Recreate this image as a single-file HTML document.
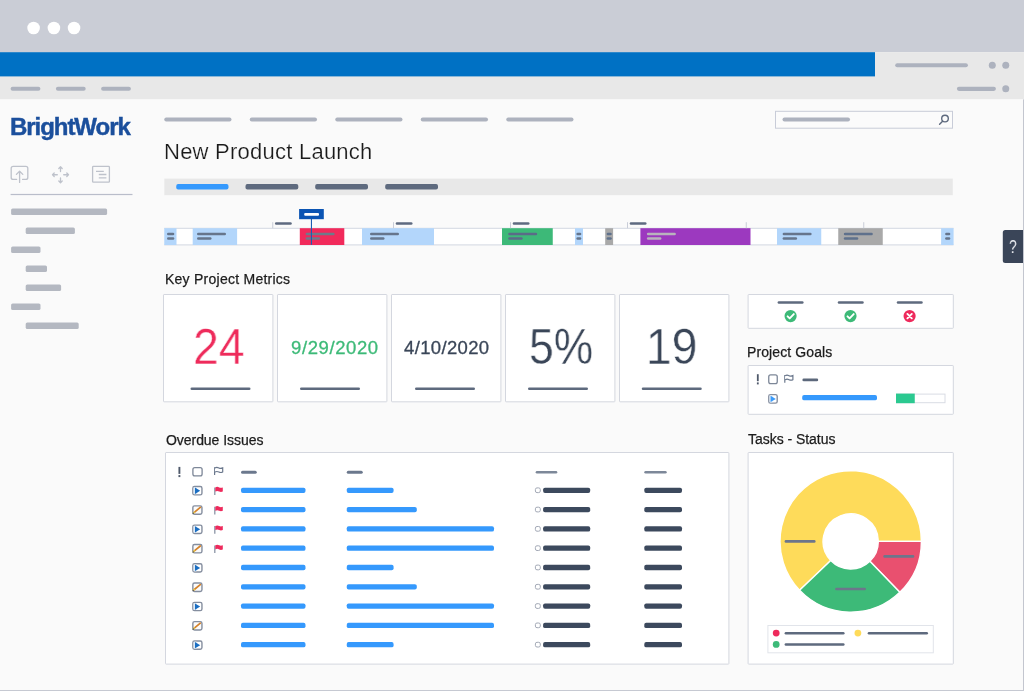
<!DOCTYPE html>
<html>
<head>
<meta charset="utf-8">
<title>BrightWork - New Product Launch</title>
<style>
html,body{margin:0;padding:0;}
body{width:1024px;height:691px;overflow:hidden;background:#fafafa;font-family:"Liberation Sans",sans-serif;position:relative;}
#win{position:absolute;left:0;top:0;width:1024px;height:691px;background:#fafafa;overflow:hidden;}
#art{position:absolute;left:0;top:0;}
.t{position:absolute;white-space:nowrap;line-height:1;will-change:transform;}
.h{font-size:14px;color:#1c1c1c;-webkit-text-stroke:0.25px #1c1c1c;}
.big{font-size:49.3px;transform-origin:0 0;-webkit-text-stroke:0.4px #fff;}
.date{font-size:18.5px;letter-spacing:0.6px;}
</style>
</head>
<body>
<div id="win">
<svg id="art" width="1024" height="691" viewBox="0 0 1024 691">
<!-- window chrome -->
<rect x="0" y="0" width="1024" height="52.2" fill="#cacdd6"/>
<circle cx="33.6" cy="28" r="6.3" fill="#fff"/>
<circle cx="53.9" cy="28" r="6.3" fill="#fff"/>
<circle cx="74.05" cy="28" r="6.3" fill="#fff"/>
<rect x="0" y="52.2" width="1024" height="47" fill="#e8e8e8"/>
<rect x="0" y="52.2" width="875" height="24.2" fill="#0071c4"/>
<rect x="895.2" y="63.25" width="72.7" height="4.1" rx="2.05" fill="#adb2be"/>
<circle cx="992.3" cy="65.3" r="3.5" fill="#adb2be"/>
<circle cx="1005.75" cy="65.3" r="3.5" fill="#adb2be"/>
<rect x="10.6" y="86.7" width="29.8" height="4.1" rx="2.05" fill="#adb2be"/>
<rect x="55.9" y="86.7" width="29.8" height="4.1" rx="2.05" fill="#adb2be"/>
<rect x="101.1" y="86.7" width="29.8" height="4.1" rx="2.05" fill="#adb2be"/>
<rect x="956.9" y="86.8" width="39" height="4.1" rx="2.05" fill="#adb2be"/>
<circle cx="1005.75" cy="88.8" r="3.5" fill="#adb2be"/>
<!-- sidebar -->
<g fill="none" stroke="#bec2cb" stroke-width="1.3" stroke-linecap="round" stroke-linejoin="round">
<path d="M16.6 179.4H13.2a2 2 0 0 1-2-2V168.3a2 2 0 0 1 2-2H25.8a2 2 0 0 1 2 2V177.4a2 2 0 0 1-2 2H22.6"/>
<path d="M19.6 182.4V171.2M16.4 174.4L19.6 171.2L22.8 174.4"/>
<path d="M60.5 166.8V171.6M58.8 168.5L60.5 166.8L62.2 168.5M60.5 182.7V177.9M58.8 181L60.5 182.7L62.2 181M52.5 174.75H57.3M54.2 173L52.5 174.75L54.2 176.5M68.5 174.75H63.7M66.8 173L68.5 174.75L66.8 176.5"/>
<rect x="92.6" y="166.4" width="16.8" height="15.8" rx="0.8"/>
<path d="M96 171.3H103.8M98.8 174.5H106.4M98.8 177.8H106.4" stroke-linecap="butt"/>
</g>
<rect x="10.6" y="193.9" width="121.9" height="1.2" fill="#b9bdca"/>
<rect x="11.1" y="208.5" width="96" height="6.6" rx="1.6" fill="#b4b8c1"/>
<rect x="25.7" y="227.5" width="49.2" height="6.6" rx="1.6" fill="#b4b8c1"/>
<rect x="11.1" y="246.5" width="29.4" height="6.6" rx="1.6" fill="#b4b8c1"/>
<rect x="25.7" y="265.4" width="21.3" height="6.6" rx="1.6" fill="#b4b8c1"/>
<rect x="25.7" y="284.4" width="35.4" height="6.6" rx="1.6" fill="#b4b8c1"/>
<rect x="11.1" y="303.4" width="29.4" height="6.6" rx="1.6" fill="#b4b8c1"/>
<rect x="25.7" y="322.4" width="53" height="6.6" rx="1.6" fill="#b4b8c1"/>
<!-- nav, search, tabs -->
<rect x="164.25" y="117.5" width="67.25" height="4" rx="2" fill="#adb2be"/>
<rect x="249.75" y="117.5" width="67.25" height="4" rx="2" fill="#adb2be"/>
<rect x="335.25" y="117.5" width="67.25" height="4" rx="2" fill="#adb2be"/>
<rect x="420.75" y="117.5" width="67.25" height="4" rx="2" fill="#adb2be"/>
<rect x="506.25" y="117.5" width="67.25" height="4" rx="2" fill="#adb2be"/>
<rect x="775.5" y="111.3" width="177" height="16.9" fill="#fbfbfb" stroke="#c8ccd8" stroke-width="1"/>
<rect x="782.5" y="117.5" width="67.5" height="4" rx="2" fill="#adb2be"/>
<g transform="translate(936 112)" fill="none" stroke="#5e6a7e" stroke-width="1.4" stroke-linecap="round"><circle cx="9" cy="6.6" r="3.3"/><path d="M6.6 9.2L3.6 12.3"/></g>
<rect x="164.3" y="178.6" width="788.45" height="16.6" fill="#e8e8e8"/>
<rect x="176.25" y="184.1" width="52.25" height="5.3" rx="1.9" fill="#3599fd"/>
<rect x="245.5" y="184.1" width="52.8" height="5.3" rx="1.9" fill="#5e6a7e"/>
<rect x="315.2" y="184.1" width="52.8" height="5.3" rx="1.9" fill="#5e6a7e"/>
<rect x="385.2" y="184.1" width="52.8" height="5.3" rx="1.9" fill="#5e6a7e"/>
<!-- timeline -->
<rect x="164.25" y="228.2" width="789.25" height="16.8" fill="#fff"/>
<rect x="164.25" y="227.8" width="789.25" height="1" fill="#d3d7e2"/>
<rect x="164.25" y="244.4" width="789.25" height="1" fill="#d3d7e2"/>
<rect x="164.25" y="228.2" width="12.25" height="16.8" fill="#b3d6fb"/>
<rect x="167" y="232.65" width="7.3" height="2.5" rx="1.25" fill="#66758c"/>
<rect x="167" y="237.35" width="7.3" height="2.5" rx="1.25" fill="#66758c"/>
<rect x="192.7" y="228.2" width="44.4" height="16.8" fill="#b3d6fb"/>
<rect x="197" y="232.65" width="29" height="2.5" rx="1.25" fill="#66758c"/>
<rect x="197" y="237.35" width="14.5" height="2.5" rx="1.25" fill="#66758c"/>
<rect x="299.8" y="228.2" width="44.5" height="16.8" fill="#f12a5b"/>
<rect x="305.6" y="232.65" width="29" height="2.5" rx="1.25" fill="#6e7a8a"/>
<rect x="305.6" y="237.35" width="14.5" height="2.5" rx="1.25" fill="#6e7a8a"/>
<rect x="362" y="228.2" width="72" height="16.8" fill="#b3d6fb"/>
<rect x="370" y="232.65" width="29" height="2.5" rx="1.25" fill="#66758c"/>
<rect x="370" y="237.35" width="14.5" height="2.5" rx="1.25" fill="#66758c"/>
<rect x="502" y="228.2" width="50.75" height="16.8" fill="#3db978"/>
<rect x="508.2" y="232.65" width="29" height="2.5" rx="1.25" fill="#5b6b88"/>
<rect x="508.2" y="237.35" width="14.5" height="2.5" rx="1.25" fill="#5b6b88"/>
<rect x="575" y="228.2" width="8" height="16.8" fill="#b3d6fb"/>
<rect x="576.4" y="232.65" width="4.9" height="2.5" rx="1.25" fill="#66758c"/>
<rect x="576.4" y="237.35" width="4.9" height="2.5" rx="1.25" fill="#66758c"/>
<rect x="605.2" y="228.2" width="7.9" height="16.8" fill="#a9a9a9"/>
<rect x="606.6" y="232.65" width="5.15" height="2.5" rx="1.25" fill="#5f718c"/>
<rect x="606.6" y="237.35" width="5.15" height="2.5" rx="1.25" fill="#5f718c"/>
<rect x="640.4" y="228.2" width="110.1" height="16.8" fill="#9c39bf"/>
<rect x="646.9" y="232.65" width="29" height="2.5" rx="1.25" fill="#b9b3bd"/>
<rect x="646.9" y="237.35" width="14.5" height="2.5" rx="1.25" fill="#b9b3bd"/>
<rect x="777" y="228.2" width="44.25" height="16.8" fill="#b3d6fb"/>
<rect x="782.6" y="232.65" width="29" height="2.5" rx="1.25" fill="#66758c"/>
<rect x="782.6" y="237.35" width="14.5" height="2.5" rx="1.25" fill="#66758c"/>
<rect x="838.25" y="228.2" width="44.5" height="16.8" fill="#a9a9a9"/>
<rect x="843.8" y="232.65" width="29" height="2.5" rx="1.25" fill="#5f718c"/>
<rect x="843.8" y="237.35" width="14.5" height="2.5" rx="1.25" fill="#5f718c"/>
<rect x="941.1" y="228.2" width="12.5" height="16.8" fill="#b3d6fb"/>
<rect x="945.1" y="232.65" width="5.2" height="2.5" rx="1.25" fill="#66758c"/>
<rect x="945.1" y="237.35" width="5.2" height="2.5" rx="1.25" fill="#66758c"/>
<rect x="272.25" y="222.2" width="1" height="6" fill="#c9cdd8"/>
<rect x="274.95" y="222.25" width="16.8" height="2.5" rx="1.25" fill="#5e6a80"/>
<rect x="393" y="222.2" width="1" height="6" fill="#c9cdd8"/>
<rect x="395.7" y="222.25" width="16.8" height="2.5" rx="1.25" fill="#5e6a80"/>
<rect x="510" y="222.2" width="1" height="6" fill="#c9cdd8"/>
<rect x="512.7" y="222.25" width="16.8" height="2.5" rx="1.25" fill="#5e6a80"/>
<rect x="627" y="222.2" width="1" height="6" fill="#c9cdd8"/>
<rect x="629.7" y="222.25" width="16.8" height="2.5" rx="1.25" fill="#5e6a80"/>
<rect x="745.75" y="222.2" width="1" height="6" fill="#c9cdd8"/>
<rect x="863.25" y="222.2" width="1" height="6" fill="#c9cdd8"/>
<rect x="299.1" y="209" width="24.7" height="10.2" fill="#0b54b3"/>
<rect x="304.2" y="212.95" width="14.8" height="2.9" rx="1" fill="#fff"/>
<rect x="310.9" y="219" width="1.1" height="25.8" fill="#1c5db2"/>
<!-- metric cards -->
<rect x="163.5" y="294.5" width="109.4" height="107.3" rx="0.6" fill="#fff" stroke="#d4d7df" stroke-width="1"/>
<rect x="277.5" y="294.5" width="109.4" height="107.3" rx="0.6" fill="#fff" stroke="#d4d7df" stroke-width="1"/>
<rect x="391.5" y="294.5" width="109.4" height="107.3" rx="0.6" fill="#fff" stroke="#d4d7df" stroke-width="1"/>
<rect x="505.5" y="294.5" width="109.4" height="107.3" rx="0.6" fill="#fff" stroke="#d4d7df" stroke-width="1"/>
<rect x="619.5" y="294.5" width="109.4" height="107.3" rx="0.6" fill="#fff" stroke="#d4d7df" stroke-width="1"/>
<rect x="190.5" y="387.45" width="60" height="2.6" rx="1.3" fill="#5e6a7e"/>
<rect x="300" y="387.45" width="60" height="2.6" rx="1.3" fill="#5e6a7e"/>
<rect x="415" y="387.45" width="60" height="2.6" rx="1.3" fill="#5e6a7e"/>
<rect x="528" y="387.45" width="60" height="2.6" rx="1.3" fill="#5e6a7e"/>
<rect x="641.75" y="387.45" width="60" height="2.6" rx="1.3" fill="#5e6a7e"/>
<!-- status card -->
<rect x="748.1" y="294.5" width="205.2" height="33.8" rx="0.6" fill="#fff" stroke="#d4d7df" stroke-width="1"/>
<rect x="777.6" y="301.2" width="26" height="2.6" rx="1.3" fill="#5e6a7e"/>
<g transform="translate(790.6 316.1)"><circle r="6.1" fill="#3dba78"/><path d="M-3 0.2L-0.9 2.3L3.2 -2" fill="none" stroke="#fff" stroke-width="1.9" stroke-linecap="round" stroke-linejoin="round"/></g>
<rect x="837.75" y="301.2" width="26" height="2.6" rx="1.3" fill="#5e6a7e"/>
<g transform="translate(850.5 316.1)"><circle r="6.1" fill="#3dba78"/><path d="M-3 0.2L-0.9 2.3L3.2 -2" fill="none" stroke="#fff" stroke-width="1.9" stroke-linecap="round" stroke-linejoin="round"/></g>
<rect x="896.75" y="301.2" width="26" height="2.6" rx="1.3" fill="#5e6a7e"/>
<g transform="translate(909.6 316.1)"><circle r="6.1" fill="#ee2a5c"/><path d="M-2.2 -2.2L2.2 2.2M2.2 -2.2L-2.2 2.2" fill="none" stroke="#fff" stroke-width="1.9" stroke-linecap="round"/></g>
<!-- project goals -->
<rect x="748.1" y="365.5" width="205.2" height="48.8" rx="0.6" fill="#fff" stroke="#d4d7df" stroke-width="1"/>
<g transform="translate(757.8 379.3)"><path d="M0 -5.1V1.9" stroke="#4f596b" stroke-width="1.8" fill="none"/><rect x="-0.9" y="3.1" width="1.8" height="2" fill="#4f596b"/></g>
<g transform="translate(773 379.3)"><rect x="-4.25" y="-4.4" width="8.5" height="8.8" rx="1.9" fill="#fff" stroke="#7d8798" stroke-width="1.3"/></g>
<g transform="translate(784.8 379)"><path d="M0 -4V3.8" stroke="#6b788d" stroke-width="1.2" fill="none"/><path d="M0.3 -3.3C1.8 -4.2 3.1 -3.9 4.3 -3.3C5.5 -2.7 6.8 -2.7 8.1 -3.4V0.7C6.8 1.4 5.5 1.3 4.3 0.7C3.1 0.1 1.8 -0.1 0.3 0.7" stroke="#6b788d" stroke-width="1.2" fill="#fff"/></g>
<rect x="802.4" y="378.6" width="15.8" height="2.7" rx="1.35" fill="#5c687b"/>
<g transform="translate(773 398.85)"><rect x="-4.2" y="-4.25" width="8.4" height="8.5" rx="1.7" fill="#fff" stroke="#858e9f" stroke-width="1.4"/><rect x="-3.45" y="-3.5" width="3" height="7" fill="#dcebf9"/><path d="M-2.4 -3.1L2.8 0.05L-2.4 3.2Z" fill="#3a9bfb"/></g>
<rect x="802.2" y="395.05" width="74.8" height="5.3" rx="1.9" fill="#3599fd"/>
<rect x="896.5" y="394.1" width="48.5" height="8.6" fill="#fff" stroke="#d9dce4" stroke-width="1"/>
<rect x="896" y="393.6" width="18.75" height="9.6" fill="#2bc990"/>
<!-- overdue issues -->
<rect x="165.5" y="452.5" width="563.4" height="211.6" rx="0.6" fill="#fff" stroke="#d4d7df" stroke-width="1"/>
<g transform="translate(179.4 472)"><path d="M0 -5.1V1.9" stroke="#4f596b" stroke-width="1.9" fill="none"/><rect x="-0.95" y="3.1" width="1.9" height="2" fill="#4f596b"/></g>
<g transform="translate(197.5 471.7)"><rect x="-4.6" y="-4.15" width="9.2" height="8.3" rx="1.9" fill="#fff" stroke="#7d8798" stroke-width="1.3"/></g>
<g transform="translate(214.6 471.3)"><path d="M0 -4V3.8" stroke="#6b788d" stroke-width="1.2" fill="none"/><path d="M0.3 -3.3C1.8 -4.2 3.1 -3.9 4.3 -3.3C5.5 -2.7 6.8 -2.7 8.1 -3.4V0.7C6.8 1.4 5.5 1.3 4.3 0.7C3.1 0.1 1.8 -0.1 0.3 0.7" stroke="#6b788d" stroke-width="1.2" fill="#fff"/></g>
<rect x="241" y="470.7" width="15.75" height="3" rx="1.5" fill="#6b788d"/>
<rect x="346.75" y="470.7" width="16" height="3" rx="1.5" fill="#6b788d"/>
<rect x="535.7" y="471" width="21.6" height="2.6" rx="1.3" fill="#7d8899"/>
<rect x="644.3" y="471" width="22.4" height="2.6" rx="1.3" fill="#7d8899"/>
<g transform="translate(197.4 490.7)"><rect x="-4.55" y="-4.15" width="9.1" height="8.3" rx="1.7" fill="#fff" stroke="#858e9f" stroke-width="1.4"/><rect x="-3.8" y="-3.4" width="3" height="6.8" fill="#dcebf9"/><path d="M-2.4 -3.1L2.8 0.05L-2.4 3.2Z" fill="#1b6ec2"/></g>
<g transform="translate(214.6 490.9)"><path d="M0.2 -3.4V4.2" stroke="#8b94a6" stroke-width="1.3" fill="none"/><path d="M0.7 -3.5C2.2 -4.5 3.5 -4.1 4.6 -3.5C5.7 -2.9 6.9 -2.9 8.2 -3.5V0.6C6.9 1.3 5.7 1.2 4.6 0.6C3.5 0 2.2 -0.3 0.7 0.6Z" fill="#ee2a5c"/></g>
<rect x="241" y="487.65" width="64.5" height="5.3" rx="1.9" fill="#3599fd"/>
<rect x="346.75" y="487.65" width="46.85" height="5.3" rx="1.9" fill="#3599fd"/>
<rect x="535.4" y="487.9" width="4.9" height="4.7" rx="1.6" fill="#fff" stroke="#a3a9b6" stroke-width="1"/>
<rect x="543.1" y="487.65" width="47.1" height="5.3" rx="1.9" fill="#3c495d"/>
<rect x="644.3" y="487.65" width="37.7" height="5.3" rx="1.9" fill="#3c495d"/>
<g transform="translate(197.4 510)"><rect x="-4.55" y="-4.15" width="9.1" height="8.4" rx="1.7" fill="#fbfbfb" stroke="#858e9f" stroke-width="1.4"/><path d="M-3.1 2.3L2.9 -2.6" stroke="#d5822a" stroke-width="1.7" stroke-linecap="round" fill="none"/><path d="M-3.9 3L-3.1 2.3" stroke="#e8c94a" stroke-width="1.6" stroke-linecap="round" fill="none"/><path d="M-4.3 3.5L-4 3.2" stroke="#555" stroke-width="1.2" stroke-linecap="round" fill="none"/></g>
<g transform="translate(214.6 510.2)"><path d="M0.2 -3.4V4.2" stroke="#8b94a6" stroke-width="1.3" fill="none"/><path d="M0.7 -3.5C2.2 -4.5 3.5 -4.1 4.6 -3.5C5.7 -2.9 6.9 -2.9 8.2 -3.5V0.6C6.9 1.3 5.7 1.2 4.6 0.6C3.5 0 2.2 -0.3 0.7 0.6Z" fill="#ee2a5c"/></g>
<rect x="241" y="506.95" width="64.5" height="5.3" rx="1.9" fill="#3599fd"/>
<rect x="346.75" y="506.95" width="70.05" height="5.3" rx="1.9" fill="#3599fd"/>
<rect x="535.4" y="507.2" width="4.9" height="4.7" rx="1.6" fill="#fff" stroke="#a3a9b6" stroke-width="1"/>
<rect x="543.1" y="506.95" width="47.1" height="5.3" rx="1.9" fill="#3c495d"/>
<rect x="644.3" y="506.95" width="37.7" height="5.3" rx="1.9" fill="#3c495d"/>
<g transform="translate(197.4 529.3)"><rect x="-4.55" y="-4.15" width="9.1" height="8.3" rx="1.7" fill="#fff" stroke="#858e9f" stroke-width="1.4"/><rect x="-3.8" y="-3.4" width="3" height="6.8" fill="#dcebf9"/><path d="M-2.4 -3.1L2.8 0.05L-2.4 3.2Z" fill="#1b6ec2"/></g>
<g transform="translate(214.6 529.5)"><path d="M0.2 -3.4V4.2" stroke="#8b94a6" stroke-width="1.3" fill="none"/><path d="M0.7 -3.5C2.2 -4.5 3.5 -4.1 4.6 -3.5C5.7 -2.9 6.9 -2.9 8.2 -3.5V0.6C6.9 1.3 5.7 1.2 4.6 0.6C3.5 0 2.2 -0.3 0.7 0.6Z" fill="#ee2a5c"/></g>
<rect x="241" y="526.25" width="64.5" height="5.3" rx="1.9" fill="#3599fd"/>
<rect x="346.75" y="526.25" width="147.25" height="5.3" rx="1.9" fill="#3599fd"/>
<rect x="535.4" y="526.5" width="4.9" height="4.7" rx="1.6" fill="#fff" stroke="#a3a9b6" stroke-width="1"/>
<rect x="543.1" y="526.25" width="47.1" height="5.3" rx="1.9" fill="#3c495d"/>
<rect x="644.3" y="526.25" width="37.7" height="5.3" rx="1.9" fill="#3c495d"/>
<g transform="translate(197.4 548.6)"><rect x="-4.55" y="-4.15" width="9.1" height="8.4" rx="1.7" fill="#fbfbfb" stroke="#858e9f" stroke-width="1.4"/><path d="M-3.1 2.3L2.9 -2.6" stroke="#d5822a" stroke-width="1.7" stroke-linecap="round" fill="none"/><path d="M-3.9 3L-3.1 2.3" stroke="#e8c94a" stroke-width="1.6" stroke-linecap="round" fill="none"/><path d="M-4.3 3.5L-4 3.2" stroke="#555" stroke-width="1.2" stroke-linecap="round" fill="none"/></g>
<g transform="translate(214.6 548.8)"><path d="M0.2 -3.4V4.2" stroke="#8b94a6" stroke-width="1.3" fill="none"/><path d="M0.7 -3.5C2.2 -4.5 3.5 -4.1 4.6 -3.5C5.7 -2.9 6.9 -2.9 8.2 -3.5V0.6C6.9 1.3 5.7 1.2 4.6 0.6C3.5 0 2.2 -0.3 0.7 0.6Z" fill="#ee2a5c"/></g>
<rect x="241" y="545.55" width="64.5" height="5.3" rx="1.9" fill="#3599fd"/>
<rect x="346.75" y="545.55" width="147.25" height="5.3" rx="1.9" fill="#3599fd"/>
<rect x="535.4" y="545.8" width="4.9" height="4.7" rx="1.6" fill="#fff" stroke="#a3a9b6" stroke-width="1"/>
<rect x="543.1" y="545.55" width="47.1" height="5.3" rx="1.9" fill="#3c495d"/>
<rect x="644.3" y="545.55" width="37.7" height="5.3" rx="1.9" fill="#3c495d"/>
<g transform="translate(197.4 567.9)"><rect x="-4.55" y="-4.15" width="9.1" height="8.3" rx="1.7" fill="#fff" stroke="#858e9f" stroke-width="1.4"/><rect x="-3.8" y="-3.4" width="3" height="6.8" fill="#dcebf9"/><path d="M-2.4 -3.1L2.8 0.05L-2.4 3.2Z" fill="#1b6ec2"/></g>
<rect x="241" y="564.85" width="64.5" height="5.3" rx="1.9" fill="#3599fd"/>
<rect x="346.75" y="564.85" width="46.85" height="5.3" rx="1.9" fill="#3599fd"/>
<rect x="535.4" y="565.1" width="4.9" height="4.7" rx="1.6" fill="#fff" stroke="#a3a9b6" stroke-width="1"/>
<rect x="543.1" y="564.85" width="47.1" height="5.3" rx="1.9" fill="#3c495d"/>
<rect x="644.3" y="564.85" width="37.7" height="5.3" rx="1.9" fill="#3c495d"/>
<g transform="translate(197.4 587.2)"><rect x="-4.55" y="-4.15" width="9.1" height="8.4" rx="1.7" fill="#fbfbfb" stroke="#858e9f" stroke-width="1.4"/><path d="M-3.1 2.3L2.9 -2.6" stroke="#d5822a" stroke-width="1.7" stroke-linecap="round" fill="none"/><path d="M-3.9 3L-3.1 2.3" stroke="#e8c94a" stroke-width="1.6" stroke-linecap="round" fill="none"/><path d="M-4.3 3.5L-4 3.2" stroke="#555" stroke-width="1.2" stroke-linecap="round" fill="none"/></g>
<rect x="241" y="584.15" width="64.5" height="5.3" rx="1.9" fill="#3599fd"/>
<rect x="346.75" y="584.15" width="70.05" height="5.3" rx="1.9" fill="#3599fd"/>
<rect x="535.4" y="584.4" width="4.9" height="4.7" rx="1.6" fill="#fff" stroke="#a3a9b6" stroke-width="1"/>
<rect x="543.1" y="584.15" width="47.1" height="5.3" rx="1.9" fill="#3c495d"/>
<rect x="644.3" y="584.15" width="37.7" height="5.3" rx="1.9" fill="#3c495d"/>
<g transform="translate(197.4 606.5)"><rect x="-4.55" y="-4.15" width="9.1" height="8.3" rx="1.7" fill="#fff" stroke="#858e9f" stroke-width="1.4"/><rect x="-3.8" y="-3.4" width="3" height="6.8" fill="#dcebf9"/><path d="M-2.4 -3.1L2.8 0.05L-2.4 3.2Z" fill="#1b6ec2"/></g>
<rect x="241" y="603.45" width="64.5" height="5.3" rx="1.9" fill="#3599fd"/>
<rect x="346.75" y="603.45" width="147.25" height="5.3" rx="1.9" fill="#3599fd"/>
<rect x="535.4" y="603.7" width="4.9" height="4.7" rx="1.6" fill="#fff" stroke="#a3a9b6" stroke-width="1"/>
<rect x="543.1" y="603.45" width="47.1" height="5.3" rx="1.9" fill="#3c495d"/>
<rect x="644.3" y="603.45" width="37.7" height="5.3" rx="1.9" fill="#3c495d"/>
<g transform="translate(197.4 625.8)"><rect x="-4.55" y="-4.15" width="9.1" height="8.4" rx="1.7" fill="#fbfbfb" stroke="#858e9f" stroke-width="1.4"/><path d="M-3.1 2.3L2.9 -2.6" stroke="#d5822a" stroke-width="1.7" stroke-linecap="round" fill="none"/><path d="M-3.9 3L-3.1 2.3" stroke="#e8c94a" stroke-width="1.6" stroke-linecap="round" fill="none"/><path d="M-4.3 3.5L-4 3.2" stroke="#555" stroke-width="1.2" stroke-linecap="round" fill="none"/></g>
<rect x="241" y="622.75" width="64.5" height="5.3" rx="1.9" fill="#3599fd"/>
<rect x="346.75" y="622.75" width="147.25" height="5.3" rx="1.9" fill="#3599fd"/>
<rect x="535.4" y="623" width="4.9" height="4.7" rx="1.6" fill="#fff" stroke="#a3a9b6" stroke-width="1"/>
<rect x="543.1" y="622.75" width="47.1" height="5.3" rx="1.9" fill="#3c495d"/>
<rect x="644.3" y="622.75" width="37.7" height="5.3" rx="1.9" fill="#3c495d"/>
<g transform="translate(197.4 645.1)"><rect x="-4.55" y="-4.15" width="9.1" height="8.3" rx="1.7" fill="#fff" stroke="#858e9f" stroke-width="1.4"/><rect x="-3.8" y="-3.4" width="3" height="6.8" fill="#dcebf9"/><path d="M-2.4 -3.1L2.8 0.05L-2.4 3.2Z" fill="#1b6ec2"/></g>
<rect x="241" y="642.05" width="64.5" height="5.3" rx="1.9" fill="#3599fd"/>
<rect x="346.75" y="642.05" width="46.85" height="5.3" rx="1.9" fill="#3599fd"/>
<rect x="535.4" y="642.3" width="4.9" height="4.7" rx="1.6" fill="#fff" stroke="#a3a9b6" stroke-width="1"/>
<rect x="543.1" y="642.05" width="47.1" height="5.3" rx="1.9" fill="#3c495d"/>
<rect x="644.3" y="642.05" width="37.7" height="5.3" rx="1.9" fill="#3c495d"/>
<!-- tasks status -->
<rect x="748.1" y="452.5" width="205.2" height="211.6" rx="0.6" fill="#fff" stroke="#d4d7df" stroke-width="1"/>
<path d="M799.59 590.25A70.7 70.7 0 1 1 921.4 541.4L878.3 541.4A27.6 27.6 0 1 0 830.75 560.47Z" fill="#fedb5a" stroke="#fff" stroke-width="1.4" stroke-linejoin="round"/>
<path d="M921.4 541.4A70.7 70.7 0 0 1 899.81 592.26L869.87 561.25A27.6 27.6 0 0 0 878.3 541.4Z" fill="#e9506f" stroke="#fff" stroke-width="1.4" stroke-linejoin="round"/>
<path d="M899.81 592.26A70.7 70.7 0 0 1 799.59 590.25L830.75 560.47A27.6 27.6 0 0 0 869.87 561.25Z" fill="#3dba78" stroke="#fff" stroke-width="1.4" stroke-linejoin="round"/>
<rect x="784.6" y="540.1" width="31" height="2.6" rx="1.3" fill="#6d768b"/>
<rect x="883.3" y="555.1" width="31" height="2.6" rx="1.3" fill="#6d768b"/>
<rect x="835.1" y="587.7" width="30.9" height="2.6" rx="1.3" fill="#6d768b"/>
<rect x="767.9" y="625.5" width="165.4" height="27.3" fill="#fff" stroke="#e1e4ea" stroke-width="1"/>
<circle cx="776.2" cy="633.1" r="3.4" fill="#ee2a5c"/>
<rect x="784.6" y="631.9" width="60" height="2.6" rx="1.3" fill="#5e6a7e"/>
<circle cx="857.9" cy="633.1" r="3.4" fill="#fedb5a"/>
<rect x="867.7" y="631.9" width="60.3" height="2.6" rx="1.3" fill="#5e6a7e"/>
<circle cx="776.2" cy="644.4" r="3.4" fill="#3dba78"/>
<rect x="784.6" y="643.2" width="60" height="2.6" rx="1.3" fill="#5e6a7e"/>
<!-- help + frame -->
<path d="M1024 230H1005.3a2.5 2.5 0 0 0-2.5 2.5V260.4a2.5 2.5 0 0 0 2.5 2.5H1024Z" fill="#3a4558"/>
<rect x="1023" y="99.4" width="1" height="591.6" fill="#c3c6cf"/>
<rect x="0" y="690" width="1024" height="1" fill="#c6c9d2"/>
</svg>
<!-- text layer -->
<div class="t " id="logo" style="left:10px;top:115.25px;font-size:24px;font-weight:bold;color:#1b4f9c;letter-spacing:-1.05px;-webkit-text-stroke:0.45px #1b4f9c;">BrightWork</div>
<div class="t " id="title" style="left:164px;top:141px;font-size:22px;color:#1a1a1a;letter-spacing:0.24px;-webkit-text-stroke:0.2px #fafafa;">New Product Launch</div>
<div class="t h" id="h1" style="left:164.9px;top:271.5px;letter-spacing:0.25px;">Key Project Metrics</div>
<div class="t big" id="n24" style="left:193.2px;top:321.6px;color:#ee2b5b;transform:scaleX(0.94);">24</div>
<div class="t date" id="d1" style="left:291.2px;top:338.5px;color:#3dba78;-webkit-text-stroke:0.3px #3dba78;">9/29/2020</div>
<div class="t date" id="d2" style="left:404.2px;top:338.5px;color:#3a4658;letter-spacing:0.35px;-webkit-text-stroke:0.3px #3a4658;">4/10/2020</div>
<div class="t big" id="n5" style="left:529.2px;top:321.6px;color:#3a4658;transform:scaleX(0.90);">5%</div>
<div class="t big" id="n19" style="left:646.4px;top:321.6px;color:#3a4658;transform:scaleX(0.935);">19</div>
<div class="t h" id="h2" style="left:746.9px;top:345.2px;letter-spacing:0.1px;">Project Goals</div>
<div class="t h" id="h3" style="left:166.3px;top:433.2px;letter-spacing:-0.05px;">Overdue Issues</div>
<div class="t h" id="h4" style="left:748.2px;top:432px;letter-spacing:-0.04px;">Tasks - Status</div>
<div class="t " id="q" style="left:1009.4px;top:237.5px;font-size:18px;color:#eceef2;transform-origin:0 0;transform:scaleX(0.78);">?</div>
</div>
</body>
</html>
